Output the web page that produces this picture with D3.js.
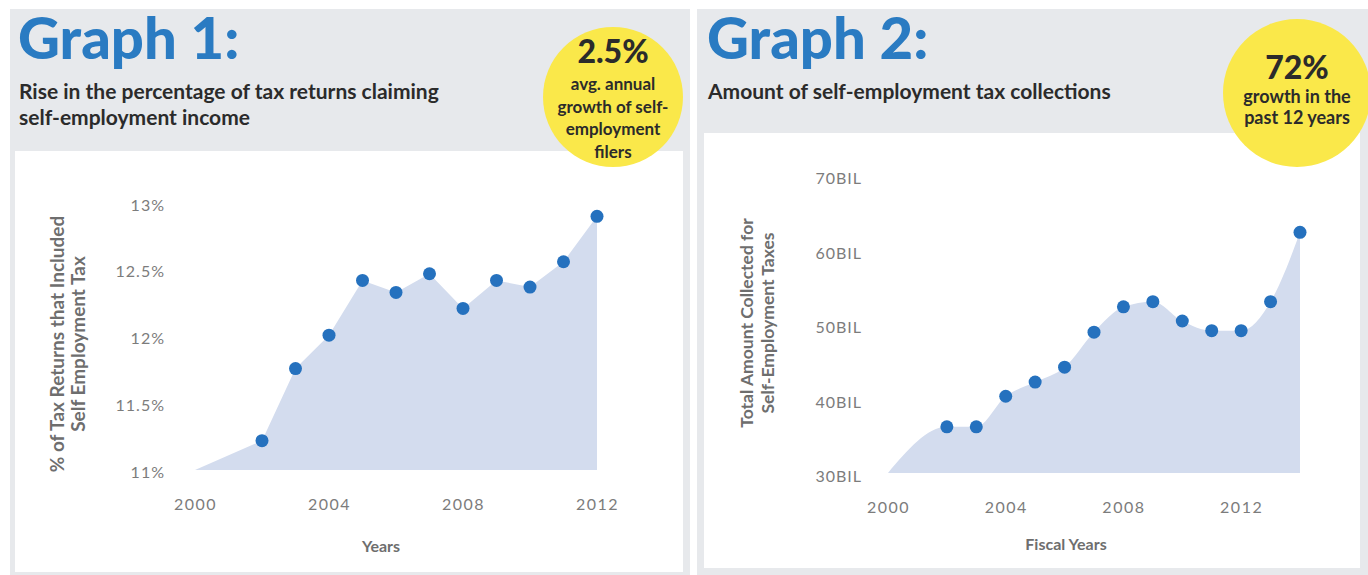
<!DOCTYPE html>
<html>
<head>
<meta charset="utf-8">
<script src="https://cdn.jsdelivr.net/npm/d3@7"></script>
<style>
  html, body { margin: 0; padding: 0; background: #ffffff; }
  svg { display: block; font-family: Lato, "Open Sans", sans-serif; }
</style>
</head>
<body>
<svg id="chart" width="1368" height="575"></svg>
<script>
// ---------- Data ----------
// Graph 1: % of tax returns that included self-employment tax
const g1AreaStartYear = 2000;
const g1AreaStartValue = 11.0;
const g1Years  = [2002, 2003, 2004, 2005, 2006, 2007, 2008, 2009, 2010, 2011, 2012];
const g1Values = [11.22, 11.76, 12.01, 12.42, 12.33, 12.47, 12.21, 12.42, 12.37, 12.56, 12.90];
const g1YTicks = [11, 11.5, 12, 12.5, 13];
const g1YTickLabels = ["11%", "11.5%", "12%", "12.5%", "13%"];
const g1XTicks = [2000, 2004, 2008, 2012];

// Graph 2: self-employment tax collections (billions)
const g2AreaStartYear = 2000;
const g2AreaStartValue = 30;
const g2Years  = [2002, 2003, 2004, 2005, 2006, 2007, 2008, 2009, 2010, 2011, 2012, 2013, 2014];
const g2Values = [36.2, 36.2, 40.3, 42.2, 44.2, 48.9, 52.3, 53.0, 50.4, 49.1, 49.1, 53.0, 62.3];
const g2YTicks = [30, 40, 50, 60, 70];
const g2YTickLabels = ["30BIL", "40BIL", "50BIL", "60BIL", "70BIL"];
const g2XTicks = [2000, 2004, 2008, 2012];

// ---------- Styles ----------
const BLUE_TITLE = "#2a7bc2";
const DOT = "#2571be";
const AREA = "#d3dcee";
const PANEL = "#e7e9ec";
const YELLOW = "#fae84a";
const TICK = "#7c7c7c";
const AXTITLE = "#6e6e6e";
const DARK = "#2b2b2b";

const svg = d3.select("#chart");

// Panels
svg.append("rect").attr("x", 10).attr("y", 9).attr("width", 680).attr("height", 566).attr("fill", PANEL);
svg.append("rect").attr("x", 15).attr("y", 151).attr("width", 668).attr("height", 421).attr("fill", "#ffffff");
svg.append("rect").attr("x", 697).attr("y", 9).attr("width", 671).attr("height", 566).attr("fill", PANEL);
svg.append("rect").attr("x", 704).attr("y", 133).attr("width", 656).attr("height", 435).attr("fill", "#ffffff");

function header(x, title, subLines, badge) {
  svg.append("text").attr("x", x).attr("y", 59)
    .attr("font-size", 58).attr("font-weight", 900).attr("fill", BLUE_TITLE)
    .text(title);
  subLines.forEach((s, i) => {
    svg.append("text").attr("x", x + 1).attr("y", 99 + i * 26)
      .attr("font-size", 21).attr("font-weight", 700).attr("fill", DARK)
      .text(s);
  });
  svg.append("circle").attr("cx", badge.cx).attr("cy", badge.cy).attr("r", badge.r).attr("fill", YELLOW);
  svg.append("text").attr("x", badge.cx).attr("y", badge.bigY).attr("text-anchor", "middle")
    .attr("font-size", 32).attr("font-weight", 900).attr("fill", DARK).text(badge.big);
  badge.lines.forEach((s, i) => {
    svg.append("text").attr("x", badge.cx).attr("y", badge.lineY + i * badge.lh).attr("text-anchor", "middle")
      .attr("font-size", badge.fs).attr("font-weight", 700).attr("fill", DARK).text(s);
  });
}

header(18, "Graph 1:", ["Rise in the percentage of tax returns claiming", "self-employment income"],
  {cx: 613, cy: 97, r: 70, big: "2.5%", bigY: 63, lines: ["avg. annual", "growth of self-", "employment", "filers"], lineY: 90, lh: 22.5, fs: 17});
header(707, "Graph 2:", ["Amount of self-employment tax collections"],
  {cx: 1297, cy: 93, r: 74, big: "72%", bigY: 79, lines: ["growth in the", "past 12 years"], lineY: 103, lh: 20.5, fs: 18});

function chart(opt) {
  const x = d3.scaleLinear().domain(opt.xDomain).range(opt.xRange);
  const y = d3.scaleLinear().domain(opt.yDomain).range(opt.yRange);
  const areaPts = [[opt.startYear, opt.startValue]].concat(opt.years.map((yr, i) => [yr, opt.values[i]]));
  const area = d3.area()
    .x(d => x(d[0])).y0(y(opt.yDomain[0])).y1(d => y(d[1]))
    .curve(opt.curve);
  svg.append("path").datum(areaPts).attr("d", area).attr("fill", AREA);

  svg.append("g").selectAll("circle")
    .data(opt.years.map((yr, i) => [yr, opt.values[i]]))
    .join("circle")
    .attr("cx", d => x(d[0])).attr("cy", d => y(d[1])).attr("r", 6.5).attr("fill", DOT);

  // y axis
  const yAxis = d3.axisLeft(y).tickValues(opt.yTicks)
    .tickFormat((d, i) => opt.yLabels[i]).tickSize(0).tickPadding(0);
  const gy = svg.append("g").attr("transform", `translate(${opt.yLabelRight},0)`).call(yAxis);
  gy.select(".domain").remove();
  gy.selectAll("text").attr("dy", opt.yLabelDy).attr("fill", TICK)
    .attr("font-family", "Lato, sans-serif").attr("font-size", 16).attr("letter-spacing", 1);

  // x axis
  const xAxis = d3.axisBottom(x).tickValues(opt.xTicks).tickFormat(d3.format("d")).tickSize(0).tickPadding(0);
  const gx = svg.append("g").attr("transform", `translate(0,${opt.xLabelY})`).call(xAxis);
  gx.select(".domain").remove();
  gx.selectAll("text").attr("dy", "0.32em").attr("fill", TICK)
    .attr("font-family", "Lato, sans-serif").attr("font-size", 16).attr("letter-spacing", 1.5);

  // axis titles
  svg.append("text").attr("x", opt.xTitle[0]).attr("y", opt.xTitle[1]).attr("text-anchor", "middle")
    .attr("font-size", 16).attr("font-weight", 700).attr("fill", AXTITLE).text(opt.xTitleText);
  opt.yTitleLines.forEach((s, i) => {
    svg.append("text")
      .attr("transform", `translate(${opt.yTitle[0] + i * 21},${opt.yTitle[1]}) rotate(-90)`)
      .attr("text-anchor", "middle").attr("dy", "0.35em")
      .attr("font-size", opt.yTitleSize).attr("font-weight", 700).attr("fill", AXTITLE).text(s);
  });
}

chart({
  xDomain: [2000, 2012], xRange: [195, 597],
  yDomain: [11, 13], yRange: [470, 203],
  startYear: g1AreaStartYear, startValue: g1AreaStartValue,
  years: g1Years, values: g1Values,
  curve: d3.curveLinear,
  yTicks: g1YTicks, yLabels: g1YTickLabels, yLabelRight: 165, yLabelDy: "0.45em",
  xTicks: g1XTicks, xLabelY: 505,
  xTitle: [381, 552], xTitleText: "Years",
  yTitle: [57, 344], yTitleSize: 19, yTitleLines: ["% of Tax Returns that Included", "Self Employment Tax"]
});

chart({
  xDomain: [2000, 2014], xRange: [888, 1300],
  yDomain: [30, 70], yRange: [473, 175],
  startYear: g2AreaStartYear, startValue: g2AreaStartValue,
  years: g2Years, values: g2Values,
  curve: d3.curveMonotoneX,
  yTicks: g2YTicks, yLabels: g2YTickLabels, yLabelRight: 862, yLabelDy: "0.55em",
  xTicks: g2XTicks, xLabelY: 508,
  xTitle: [1066, 550], xTitleText: "Fiscal Years",
  yTitle: [747, 323], yTitleSize: 17.5, yTitleLines: ["Total Amount Collected for", "Self-Employment Taxes"]
});
</script>
</body>
</html>
